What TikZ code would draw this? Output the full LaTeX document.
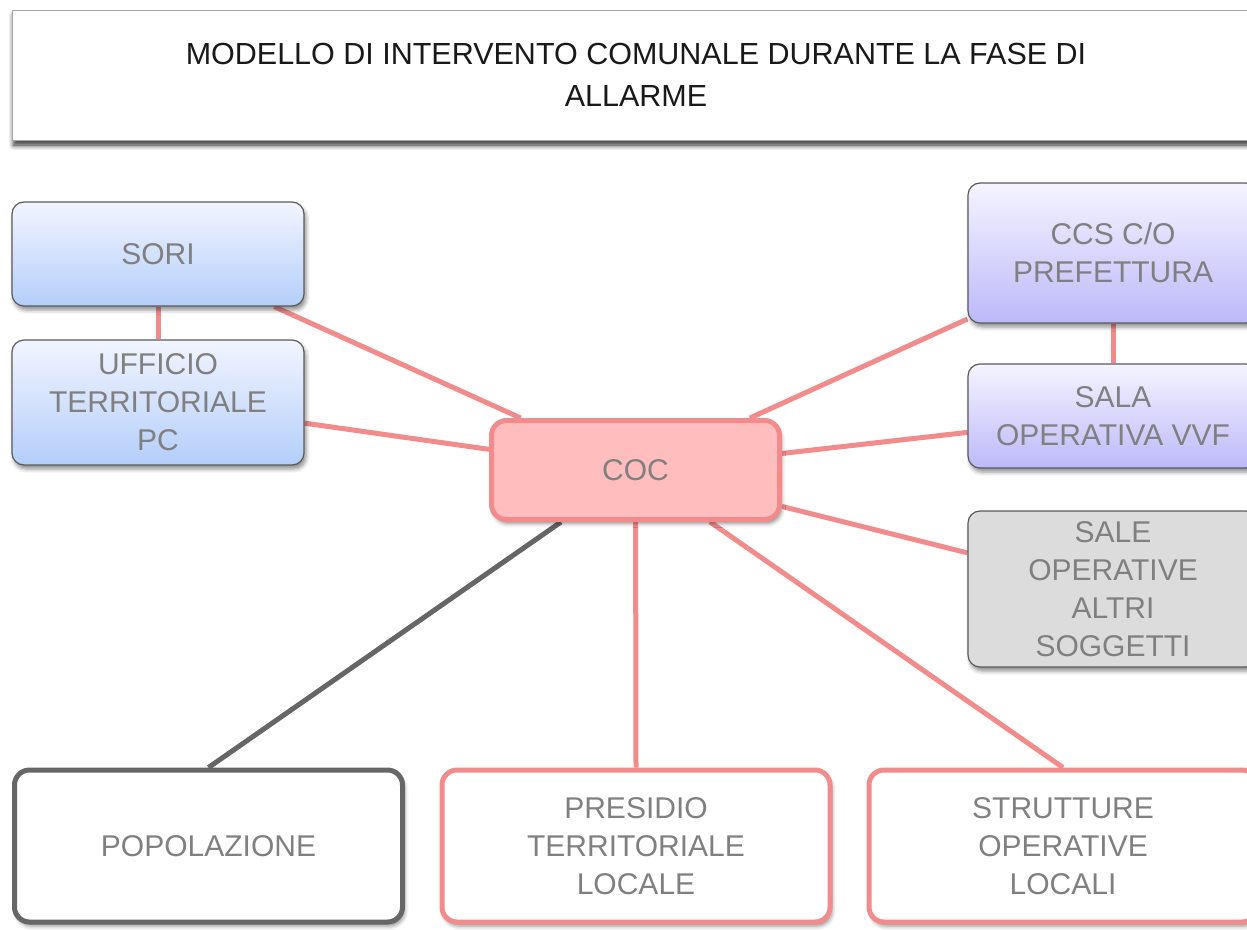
\documentclass[tikz,border=0pt]{standalone}
\usepackage{fontspec}
\setmainfont{Liberation Sans}
\usetikzlibrary{shadows.blur,backgrounds}
\definecolor{txtgray}{HTML}{808080}
\definecolor{salmon}{HTML}{F28B8B}
\definecolor{bordergray}{HTML}{5A5A5A}
\definecolor{darkline}{HTML}{666666}
\definecolor{bluetop}{HTML}{F2F5FF}
\definecolor{bluebot}{HTML}{B4CEFA}
\definecolor{lavtop}{HTML}{F5F4FF}
\definecolor{lavbot}{HTML}{BDB9FA}
\definecolor{cocfill}{HTML}{FFBDBD}
\definecolor{othergray}{HTML}{DCDCDC}
\begin{document}
\begin{tikzpicture}[x=1pt,y=1pt,
  base/.style={rectangle, align=center, text=txtgray, inner sep=0pt,
    font=\fontsize{30}{38}\selectfont,
    blur shadow={shadow xshift=2pt, shadow yshift=-4pt, shadow blur radius=4pt, shadow opacity=45}},
  topbox/.style={base, rounded corners=12pt, draw=bordergray, line width=1.2pt},
  bluebox/.style={topbox, top color=bluetop, bottom color=bluebot},
  lavbox/.style={topbox, top color=lavtop, bottom color=lavbot},
  greybox/.style={topbox, fill=othergray},
  bottombox/.style={base, rounded corners=15pt, fill=white, line width=5pt},
  link/.style={draw=salmon, line width=5pt},
  darklink/.style={draw=darkline, line width=5pt}
]
\useasboundingbox (0,0) rectangle (1247,-929);
\clip (0,0) rectangle (1247,-929);

% title
\node[base, draw=black!35, line width=0.8pt, fill=white, minimum width=1248pt, minimum height=130pt,
  blur shadow={shadow xshift=2pt, shadow yshift=-5pt, shadow blur radius=5pt, shadow opacity=50},
  text=black!90, font=\fontsize{30.5}{42}\selectfont] (title) at (636,-75)
  {MODELLO DI INTERVENTO COMUNALE DURANTE LA FASE DI\\ALLARME};

% left boxes
\node[bluebox, minimum width=292pt, minimum height=104pt] (sori) at (158,-254) {SORI};
\node[bluebox, minimum width=292pt, minimum height=125pt] (uff) at (158,-402.5) {UFFICIO\\TERRITORIALE\\PC};

% centre
\node[base, rounded corners=15pt, draw=salmon, line width=5pt, fill=cocfill,
  minimum width=288pt, minimum height=99pt] (coc) at (635.5,-470) {COC};

% right boxes
\node[lavbox, minimum width=290pt, minimum height=140pt] (ccs) at (1113,-253) {CCS C/O\\PREFETTURA};
\node[lavbox, minimum width=290pt, minimum height=104pt] (sala) at (1113,-416) {SALA\\OPERATIVA VVF};
\node[greybox, minimum width=290pt, minimum height=156pt] (sale) at (1113,-589) {SALE\\OPERATIVE\\ALTRI\\SOGGETTI};

% bottom boxes
\node[bottombox, draw=darkline, minimum width=388pt, minimum height=152pt] (pop) at (208.5,-846) {POPOLAZIONE};
\node[bottombox, draw=salmon, minimum width=388pt, minimum height=152pt] (pres) at (636,-846) {PRESIDIO\\TERRITORIALE\\LOCALE};
\node[bottombox, draw=salmon, minimum width=388pt, minimum height=152pt] (stru) at (1063,-846) {STRUTTURE\\OPERATIVE\\LOCALI};

\begin{scope}[on background layer]
  \draw[link] (sori.south) -- (uff.north);
  \draw[link] (ccs.south) -- (sala.north);
  \draw[link] (sori) -- (coc);
  \draw[link] (uff) -- (coc);
  \draw[link] (ccs) -- (coc);
  \draw[link] (sala) -- (coc);
  \draw[link] (sale) -- (coc);
  \draw[darklink] (coc) -- (pop.north);
  \draw[link] (coc) -- (pres.north);
  \draw[link] (coc) -- (stru.north);
\end{scope}
\end{tikzpicture}
\end{document}
